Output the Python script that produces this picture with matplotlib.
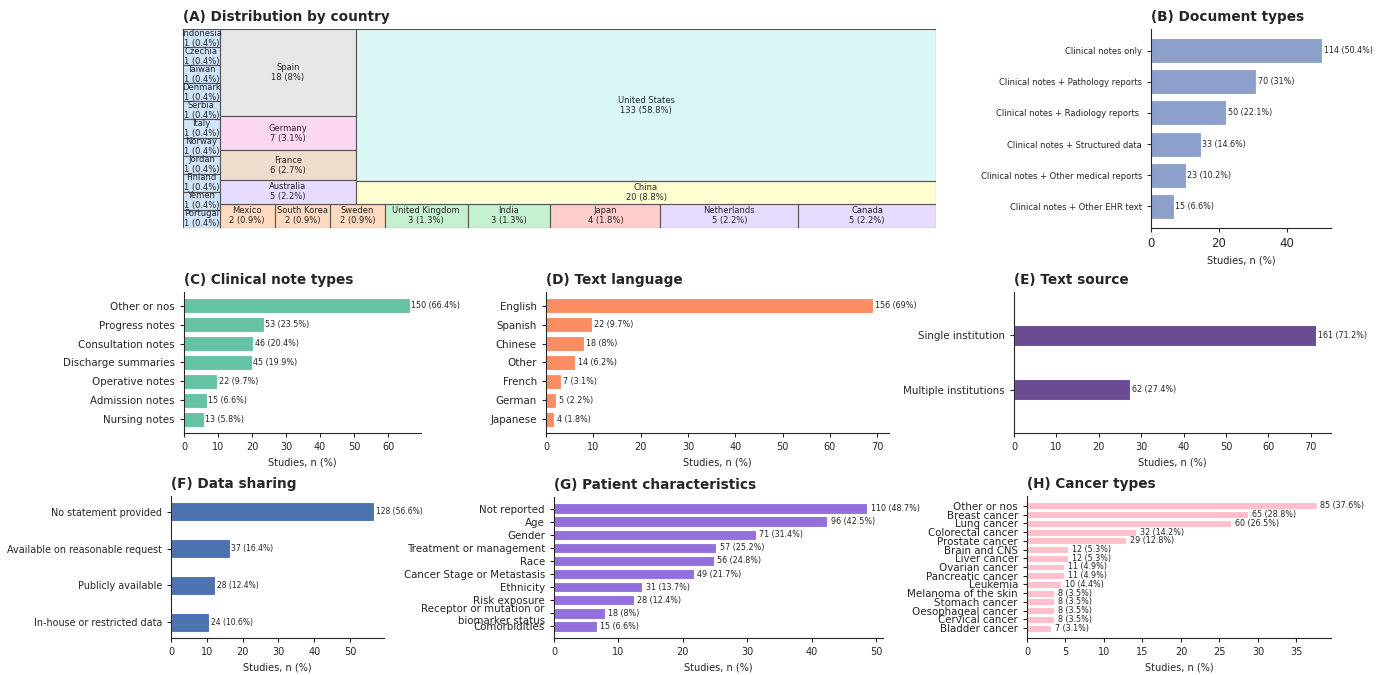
import numpy as np
import matplotlib
matplotlib.use('Agg')
import matplotlib.pyplot as plt
import seaborn as sns

N_STUDIES = 226

# country counts, in treemap strip order
countries = ['Indonesia', 'Czechia', 'Taiwan', 'Denmark', 'Serbia', 'Italy', 'Norway',
             'Jordan', 'Finland', 'Yemen', 'Portugal',
             'Mexico', 'South Korea', 'Sweden', 'United Kingdom', 'India', 'Japan',
             'Netherlands', 'Canada',
             'Spain', 'Germany', 'France', 'Australia',
             'United States', 'China']
country_n = [1, 1, 1, 1, 1, 1, 1, 1, 1, 1, 1,
             2, 2, 2, 3, 3, 4, 5, 5,
             18, 7, 6, 5,
             133, 20]
strip_sizes = [11, 8, 4, 2]
strip_sides = ['left', 'bottom', 'left', 'left']

doc_types = ['Clinical notes only', 'Clinical notes + Pathology reports',
             'Clinical notes + Radiology reports ', 'Clinical notes + Structured data',
             'Clinical notes + Other medical reports', 'Clinical notes + Other EHR text']
doc_n = [114, 70, 50, 33, 23, 15]

note_types = ['Other or nos', 'Progress notes', 'Consultation notes', 'Discharge summaries',
              'Operative notes', 'Admission notes', 'Nursing notes']
note_n = [150, 53, 46, 45, 22, 15, 13]

languages = ['English', 'Spanish', 'Chinese', 'Other', 'French', 'German', 'Japanese']
lang_n = [156, 22, 18, 14, 7, 5, 4]

sources = ['Single institution', 'Multiple institutions']
source_n = [161, 62]

sharing = ['No statement provided', 'Available on reasonable request',
           'Publicly available', 'In-house or restricted data']
sharing_n = [128, 37, 28, 24]

patient = ['Not reported', 'Age', 'Gender', 'Treatment or management', 'Race',
           'Cancer Stage or Metastasis', 'Ethnicity', 'Risk exposure',
           'Receptor or mutation or\nbiomarker status', 'Comorbidities']
patient_n = [110, 96, 71, 57, 56, 49, 31, 28, 18, 15]

cancers = ['Other or nos', 'Breast cancer', 'Lung cancer', 'Colorectal cancer',
           'Prostate cancer', 'Brain and CNS', 'Liver cancer', 'Ovarian cancer',
           'Pancreatic cancer', 'Leukemia', 'Melanoma of the skin', 'Stomach cancer',
           'Oesophageal cancer', 'Cervical cancer', 'Bladder cancer']
cancer_n = [85, 65, 60, 32, 29, 12, 12, 11, 11, 10, 8, 8, 8, 8, 7]

DARK = '#262626'
plt.rcParams.update({
    'font.family': 'DejaVu Sans',
    'text.color': DARK,
    'axes.edgecolor': DARK,
    'axes.labelcolor': DARK,
    'xtick.color': DARK,
    'ytick.color': DARK,
    'xtick.major.size': 3,
    'ytick.major.size': 3,
})

W, H = 1384, 675
fig = plt.figure(figsize=(W / 100, H / 100), dpi=100)


def add_ax(x0, y0, x1, y1):
    # pixel box (top-left origin) -> figure axes
    return fig.add_axes([x0 / W, 1 - y1 / H, (x1 - x0) / W, (y1 - y0) / H])


def pct_label(n):
    p = n / N_STUDIES * 100
    return f"{n} ({round(p, 1):g}%)"


def hbar(ax, labels, counts, color, title, height=0.8, ysize=7.4, xsize=7, vsize=5.8):
    pct = [c / N_STUDIES * 100 for c in counts]
    y = np.arange(len(labels))
    ax.barh(y, pct, height=height, color=color, edgecolor='white', linewidth=0.8)
    ax.set_yticks(y)
    ax.set_yticklabels(labels, fontsize=ysize)
    ax.tick_params(axis='x', labelsize=xsize)
    ax.invert_yaxis()
    for yi, p, c in zip(y, pct, counts):
        ax.text(p + 0.5, yi, pct_label(c), va='center', ha='left', fontsize=vsize, color=DARK)
    ax.set_xlabel('Studies, n (%)', fontsize=7)
    ax.set_title(title, loc='left', fontweight='bold', fontsize=9.8)
    ax.spines['top'].set_visible(False)
    ax.spines['right'].set_visible(False)


def strip_layout(values, sizes, sides):
    # slice the unit square into strips, each strip split along its length
    x0, y0, w, h = 0.0, 0.0, 1.0, 1.0
    remaining = float(sum(values))
    rects = []
    i = 0
    for size, side in zip(sizes, sides):
        vals = values[i:i + size]
        s = float(sum(vals))
        if side == 'left':
            sw = w * s / remaining
            top = y0 + h
            for v in vals:
                vh = h * v / s
                rects.append((x0, top - vh, sw, vh))
                top -= vh
            x0 += sw
            w -= sw
        else:
            sh = h * s / remaining
            left = x0
            for v in vals:
                vw = w * v / s
                rects.append((left, y0, vw, sh))
                left += vw
            y0 += sh
            h -= sh
        remaining -= s
        i += size
    return rects


# (A) treemap
axA = add_ax(183, 29, 936, 228)
pastel = sns.color_palette('pastel')
levels = sorted(set(country_n))
rects = strip_layout(country_n, strip_sizes, strip_sides)
for name, n, (rx, ry, rw, rh) in zip(countries, country_n, rects):
    col = pastel[levels.index(n)]
    bar = axA.bar(rx, rh, width=rw, bottom=ry, align='edge', color=col, alpha=0.5,
                  edgecolor='none')[0]
    axA.bar(rx, rh, width=rw, bottom=ry, align='edge', facecolor='none',
            edgecolor='#555555', linewidth=0.8)
    t = axA.text(rx + rw / 2, ry + rh / 2, f"{name}\n{pct_label(n)}", ha='center',
                 va='center', fontsize=6, color=DARK, linespacing=1.15)
    t.set_clip_path(bar)
axA.set_xlim(0, 1)
axA.set_ylim(0, 1)
axA.axis('off')
axA.set_title('(A) Distribution by country', loc='left', fontweight='bold', fontsize=9.8)

# (B) document types
axB = add_ax(1151, 29, 1331, 228)
hbar(axB, doc_types, doc_n, '#8da0cb', '(B) Document types', ysize=6, xsize=8.5)

# (C) clinical note types
axC = add_ax(184, 292, 421, 433)
hbar(axC, note_types, note_n, '#66c2a5', '(C) Clinical note types')

# (D) text language
axD = add_ax(546, 292, 889, 433)
hbar(axD, languages, lang_n, '#fc8d62', '(D) Text language')

# (E) text source
axE = add_ax(1014, 292, 1331, 433)
hbar(axE, sources, source_n, '#6a4c93', '(E) Text source', height=0.4)
axE.set_ylim(1.8, -0.8)

# (F) data sharing
axF = add_ax(171, 496, 384, 638)
hbar(axF, sharing, sharing_n, '#4c72b0', '(F) Data sharing', height=0.5, ysize=6.9, vsize=5.5)

# (G) patient characteristics
axG = add_ax(554, 497, 883, 638)
hbar(axG, patient, patient_n, '#9370db', '(G) Patient characteristics')

# (H) cancer types
axH = add_ax(1027, 496, 1331, 638)
hbar(axH, cancers, cancer_n, '#ffc0cb', '(H) Cancer types')

fig.savefig('out.png', dpi=100)
